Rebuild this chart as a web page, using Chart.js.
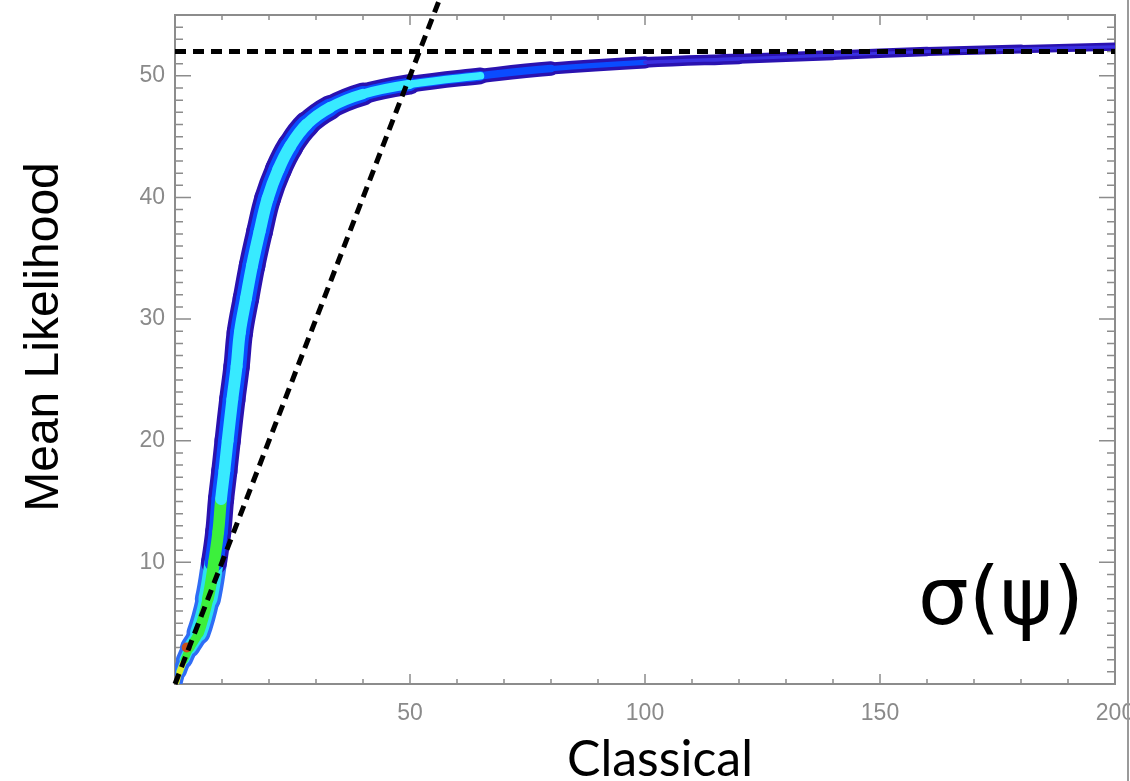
<!DOCTYPE html>
<html lang="en">
<head>
<meta charset="UTF-8">
<title>Mean Likelihood vs Classical</title>
<script src="https://cdn.jsdelivr.net/npm/chart.js"></script>
<style>
  html, body { margin: 0; padding: 0; background: #fff; }
  canvas { display: block; }
</style>
</head>
<body>
<canvas id="myChart" width="1130" height="781"></canvas>
<script>
// centre of the density band
var classical      = [0.3, 1, 2, 3.2, 5, 7, 8.3, 9.2, 9.8, 10.5, 11.2, 12.2, 13.1, 13.8, 15.1, 16.4, 18, 19.7, 22, 24.5, 28, 33, 40, 50, 65, 80, 100, 120, 140, 160, 180, 200];
var meanLikelihood = [0, 1, 2, 3, 4.2, 7, 10, 12.5, 15.2, 17.5, 20, 23.4, 26.1, 28.9, 31.7, 34.4, 37.2, 39.9, 42.3, 44.2, 46, 47.4, 48.5, 49.3, 50.0, 50.6, 51.1, 51.4, 51.7, 52.0, 52.2, 52.4];
var hotSpotX = [2.5];
var hotSpotY = [3];
var plateau = 52;
var oneToOne = [0, 56.5];
var xTicks = [50, 100, 150, 200];
var yTicks = [10, 20, 30, 40, 50];

function pts(xs, ys) {
    return xs.map(function(x, i) { return { x: x, y: ys[i] }; });
}

// thickness of the band in pixels, eased along the curve
var widthStops = [[0, 10], [3, 18], [7, 26], [24, 27], [40, 22], [60, 16], [100, 11], [200, 8]];
function bandWidth(x) {
    for (var i = 1; i < widthStops.length; i++) {
        var a = widthStops[i - 1], b = widthStops[i];
        if (x <= b[0]) return a[1] + (b[1] - a[1]) * (x - a[0]) / (b[0] - a[0]);
    }
    return widthStops[widthStops.length - 1][1];
}

function segX(ctx) { return (classical[ctx.p0DataIndex] + classical[ctx.p1DataIndex]) / 2; }
function segY(ctx) { return (meanLikelihood[ctx.p0DataIndex] + meanLikelihood[ctx.p1DataIndex]) / 2; }

var frame = {
    id: 'frame',
    beforeDatasetsDraw: function(chart) {
        var ctx = chart.ctx, a = chart.chartArea;
        var xs = chart.scales.x, ys = chart.scales.y;
        ctx.save();
        ctx.strokeStyle = '#8c8c8c';
        ctx.lineWidth = 1.5;
        ctx.beginPath();
        for (var v = 10; v < 200; v += 10) {
            var px = xs.getPixelForValue(v);
            var len = v % 50 === 0 ? 10 : 5;
            ctx.moveTo(px, a.bottom); ctx.lineTo(px, a.bottom - len);
            ctx.moveTo(px, a.top); ctx.lineTo(px, a.top + len);
        }
        for (var w = 1; w < 55; w++) {
            var py = ys.getPixelForValue(w);
            var l2 = w % 10 === 0 ? 16 : 8;
            ctx.moveTo(a.left, py); ctx.lineTo(a.left + l2, py);
            ctx.moveTo(a.right, py); ctx.lineTo(a.right - l2, py);
        }
        ctx.stroke();
        ctx.lineWidth = 2;
        ctx.strokeRect(a.left, a.top, a.right - a.left, a.bottom - a.top);
        ctx.restore();
    },
    afterDraw: function(chart) {
        var ctx = chart.ctx;
        ctx.save();
        ctx.fillStyle = '#000';
        ctx.textAlign = 'center';
        ctx.textBaseline = 'middle';
        ctx.font = '48px "Liberation Sans"';
        ctx.translate(45, 337);
        ctx.rotate(-Math.PI / 2);
        ctx.fillText('Mean Likelihood', 0, 0);
        ctx.restore();

        ctx.save();
        ctx.fillStyle = '#000';
        ctx.textAlign = 'center';
        ctx.textBaseline = 'alphabetic';
        ctx.font = '50px Lato';
        ctx.fillText('Classical', 660, 776);
        ctx.textAlign = 'right';
        ctx.font = '80px "DejaVu Sans"';
        ctx.fillText('\u03c3(\u03c8)', 1084, 624);
        ctx.restore();

        ctx.save();
        ctx.strokeStyle = '#9a9a9a';
        ctx.lineWidth = 2;
        ctx.beginPath();
        ctx.moveTo(1128, 0); ctx.lineTo(1128, 781);
        ctx.stroke();
        ctx.restore();
    }
};

var band = pts(classical, meanLikelihood);
var bandLine = {
    type: 'line',
    data: band,
    pointRadius: 0,
    tension: 0.4,
    borderCapStyle: 'round',
    borderJoinStyle: 'round'
};

function layer(extra) {
    return Object.assign({}, bandLine, extra);
}

new Chart(document.getElementById('myChart').getContext('2d'), {
    type: 'scatter',
    data: {
        datasets: [{
            label: 'plateau',
            type: 'line',
            data: [{ x: 0, y: plateau }, { x: 200, y: plateau }],
            borderColor: '#000',
            borderWidth: 5,
            borderDash: [11, 7],
            pointRadius: 0,
            order: 0
        }, {
            label: 'one to one',
            type: 'line',
            data: [{ x: oneToOne[0], y: oneToOne[0] }, { x: oneToOne[1], y: oneToOne[1] }],
            borderColor: '#000',
            borderWidth: 5,
            borderDash: [11, 7],
            pointRadius: 0,
            clip: false,
            order: 0
        }, {
            label: 'hot spot',
            data: pts(hotSpotX, hotSpotY),
            backgroundColor: '#c8501a',
            borderWidth: 0,
            pointRadius: 5,
            order: 1
        }, layer({
            label: 'core',
            borderColor: '#38eaff',
            segment: {
                borderWidth: function(ctx) { return Math.max(3, bandWidth(segX(ctx)) * 0.45); },
                borderColor: function(ctx) {
                    var x = segX(ctx), y = segY(ctx);
                    if (x > 60) return 'rgba(0,0,0,0)';
                    if (y < 2) return '#d8ec2a';
                    if (y < 14) return '#3cf03c';
                    return '#38eaff';
                }
            },
            order: 2
        }), layer({
            label: 'mid',
            borderColor: '#0a4cff',
            segment: {
                borderWidth: function(ctx) { return Math.max(3, bandWidth(segX(ctx)) - 7); },
                borderColor: function(ctx) {
                    var y = segY(ctx);
                    if (y < 10) return '#2ce0f0';
                    return segX(ctx) > 100 ? '#3a30e0' : '#0a4cff';
                }
            },
            order: 3
        }), layer({
            label: 'edge',
            borderColor: '#2a12b0',
            segment: {
                borderWidth: function(ctx) { return bandWidth(segX(ctx)); },
                borderColor: function(ctx) {
                    return segY(ctx) < 10 ? '#2f6cf5' : '#2a12b0';
                }
            },
            order: 4
        })]
    },
    options: {
        responsive: false,
        animation: false,
        layout: { padding: { top: 15, right: 15, left: 0, bottom: 0 } },
        plugins: { legend: { display: false }, tooltip: { enabled: false } },
        scales: {
            x: {
                type: 'linear',
                min: 0,
                max: 200,
                grid: { display: false, drawTicks: false },
                border: { display: false },
                afterBuildTicks: function(scale) {
                    scale.ticks = xTicks.map(function(v) { return { value: v }; });
                },
                afterFit: function(scale) {
                    scale.height = 97;
                    scale.paddingLeft = 0;
                    scale.paddingRight = 0;
                },
                ticks: {
                    color: '#8a8a8a',
                    padding: 16,
                    maxRotation: 0,
                    font: { family: '"Liberation Sans"', size: 23 }
                }
            },
            y: {
                type: 'linear',
                min: 0,
                max: 55,
                grid: { display: false, drawTicks: false },
                border: { display: false },
                afterBuildTicks: function(scale) {
                    scale.ticks = yTicks.map(function(v) { return { value: v }; });
                },
                afterFit: function(scale) {
                    scale.width = 175;
                    scale.paddingTop = 0;
                    scale.paddingBottom = 0;
                },
                ticks: {
                    color: '#8a8a8a',
                    padding: 10,
                    font: { family: '"Liberation Sans"', size: 23 }
                }
            }
        }
    },
    plugins: [frame]
});
</script>
</body>
</html>
